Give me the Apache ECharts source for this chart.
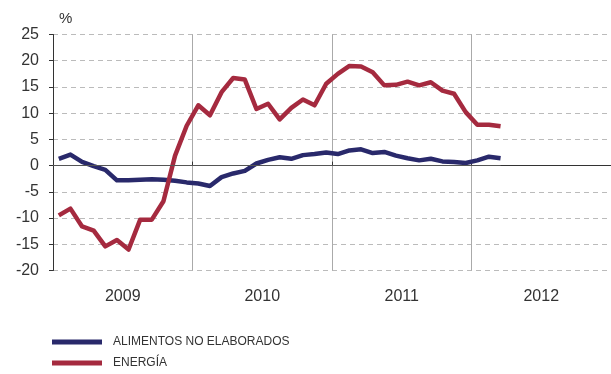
<!DOCTYPE html>
<html>
<head>
<meta charset="utf-8">
<script src="https://cdn.jsdelivr.net/npm/echarts@6/dist/echarts.min.js"></script>
<style>html,body{margin:0;padding:0;background:#fff}#c{width:611px;height:374px}</style>
</head>
<body>
<div id="c"></div>
<script>
// Monthly data, Jan 2009 – Mar 2012 (year-on-year %)
var years = ['2009', '2010', '2011', '2012'];
var alimentos = [1.3, 2.1, 0.7, -0.1, -0.8, -2.8, -2.8, -2.7, -2.6, -2.7, -2.9, -3.2,
  -3.4, -3.9, -2.2, -1.5, -1.0, 0.4, 1.1, 1.6, 1.3, 2.0, 2.2, 2.5,
  2.2, 2.9, 3.1, 2.4, 2.6, 1.9, 1.4, 1.0, 1.3, 0.8, 0.7, 0.5, 1.0, 1.7, 1.4];
var energia = [-9.5, -8.2, -11.6, -12.4, -15.4, -14.2, -16.0, -10.3, -10.3, -6.8, 1.9, 7.6,
  11.5, 9.6, 14.0, 16.7, 16.4, 10.8, 11.8, 8.8, 11.0, 12.6, 11.5, 15.6,
  17.5, 19.0, 18.9, 17.8, 15.3, 15.4, 16.0, 15.3, 15.9, 14.3, 13.7, 10.2, 7.8, 7.8, 7.5];
var seriesNames = ['ALIMENTOS NO ELABORADOS', 'ENERGÍA'];

function toPairs(arr) { return arr.map(function (v, i) { return [i + 0.5, v]; }); }

var chart = echarts.init(document.getElementById('c'), null, { renderer: 'canvas' });
var font = '"Liberation Sans", Arial, sans-serif';
var legendText = { fontSize: 12, color: '#333', fontFamily: font, padding: [0, 0, 0, 6] };
chart.setOption({
  animation: false,
  title: { text: '%', left: 54, top: 6, textStyle: { fontSize: 15, fontWeight: 'normal', color: '#333', fontFamily: font } },
  grid: { left: 53, top: 34.5, width: 560, height: 236, containLabel: false },
  legend: [{
    orient: 'vertical', left: 52, top: 336, padding: 0, itemWidth: 50, itemHeight: 5,
    icon: 'rect', textStyle: legendText, data: [seriesNames[0]]
  }, {
    orient: 'vertical', left: 52, top: 357, padding: 0, itemWidth: 50, itemHeight: 5,
    icon: 'rect', textStyle: legendText, data: [seriesNames[1]]
  }],
  xAxis: [{
    type: 'value', min: 0, max: 48, interval: 12,
    axisLine: { show: true, lineStyle: { color: '#333', width: 1 } },
    axisTick: { show: true, inside: true, length: 4, lineStyle: { color: '#333' } },
    axisLabel: { show: false },
    splitLine: { show: true, showMinLine: false, lineStyle: { color: '#aaa', width: 1, type: 'solid' } }
  }, {
    type: 'category', data: years, position: 'bottom',
    axisLine: { show: false }, axisTick: { show: false }, splitLine: { show: false },
    axisLabel: { fontSize: 16, color: '#333', margin: 18, fontFamily: font }
  }],
  yAxis: {
    type: 'value', min: -20, max: 25, interval: 5,
    axisLine: { show: true, lineStyle: { color: '#333', width: 1 } },
    axisTick: { show: true, length: 4, lineStyle: { color: '#333' } },
    axisLabel: { fontSize: 16, color: '#333', margin: 14, fontFamily: font },
    splitLine: { show: true, lineStyle: { color: '#bbb', type: [5, 4], width: 1 } }
  },
  series: [{
    name: '_zero', type: 'line', data: [], silent: true, z: 1,
    markLine: {
      silent: true, symbol: 'none', label: { show: false },
      lineStyle: { color: '#555', width: 1, type: 'solid' },
      data: [[{ coord: [0, 0] }, { coord: [alimentos.length - 0.5, 0] }]]
    }
  }, {
    name: seriesNames[0], type: 'line', data: toPairs(alimentos), showSymbol: false, symbol: 'none', z: 3,
    lineStyle: { color: '#29296b', width: 4.5, join: 'round' }, itemStyle: { color: '#29296b' }
  }, {
    name: seriesNames[1], type: 'line', data: toPairs(energia), showSymbol: false, symbol: 'none', z: 3,
    lineStyle: { color: '#a52a3f', width: 4.5, join: 'round' }, itemStyle: { color: '#a52a3f' }
  }]
});
</script>
</body>
</html>
